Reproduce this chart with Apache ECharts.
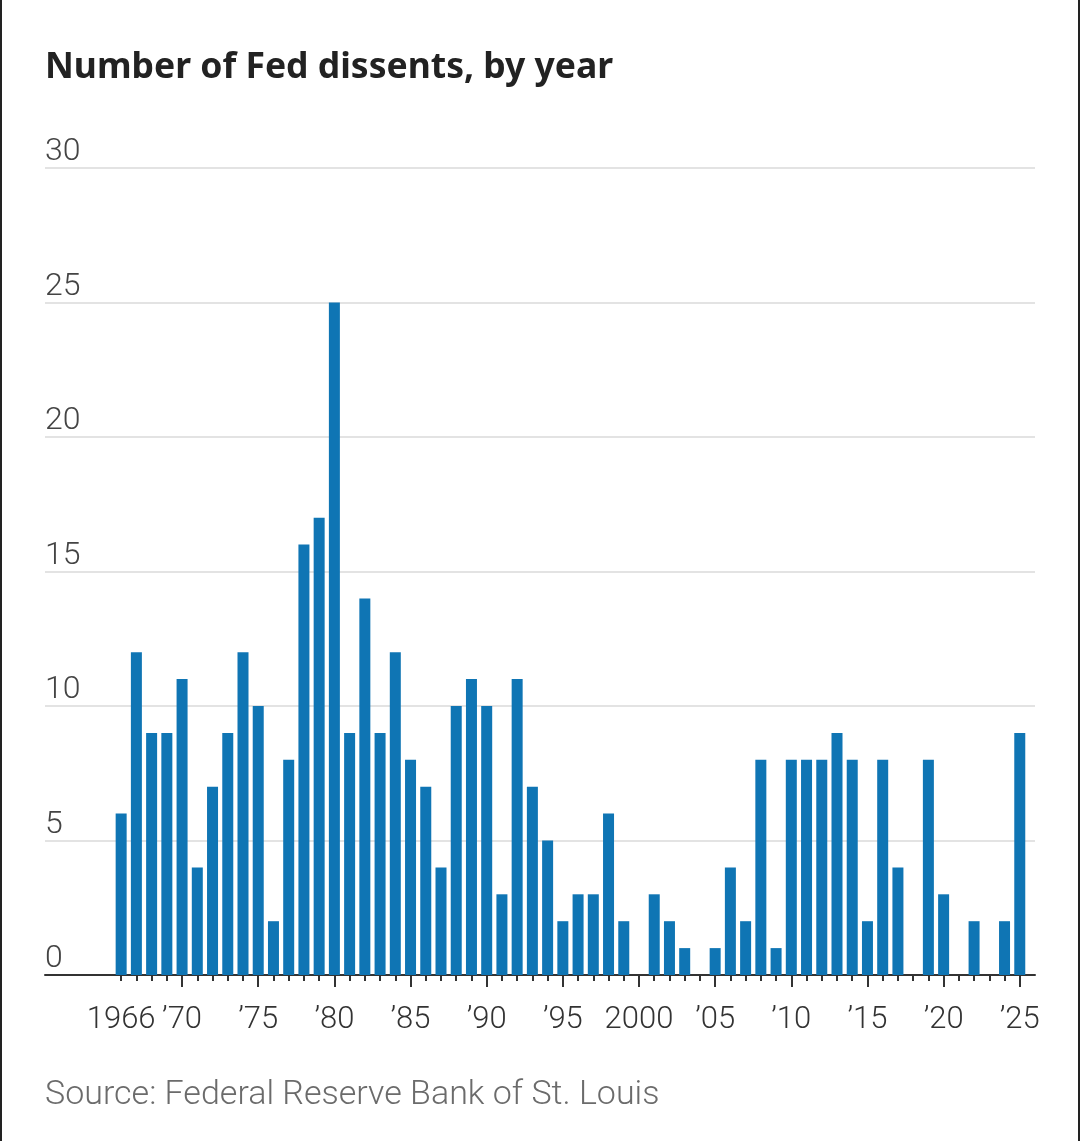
<!DOCTYPE html>
<html>
<head>
<meta charset="utf-8">
<script src="https://cdn.jsdelivr.net/npm/echarts@6/dist/echarts.min.js"></script>
<style>
html,body{margin:0;padding:0;background:#fff;}
#chart{width:1080px;height:1141px;}
</style>
</head>
<body>
<div id="chart"></div>
<script>
const years = [1966,1967,1968,1969,1970,1971,1972,1973,1974,1975,1976,1977,1978,1979,1980,1981,1982,1983,1984,1985,1986,1987,1988,1989,1990,1991,1992,1993,1994,1995,1996,1997,1998,1999,2000,2001,2002,2003,2004,2005,2006,2007,2008,2009,2010,2011,2012,2013,2014,2015,2016,2017,2018,2019,2020,2021,2022,2023,2024,2025];
const dissents = [6,12,9,9,11,4,7,9,12,10,2,8,16,17,25,9,14,9,12,8,7,4,10,11,10,3,11,7,5,2,3,3,6,2,0,3,2,1,0,1,4,2,8,1,8,8,8,9,8,2,8,4,0,8,3,0,2,0,2,9];
const xLabelYears = [1966,1970,1975,1980,1985,1990,1995,2000,2005,2010,2015,2020,2025];
const xLabelTexts = ['1966','\u201970','\u201975','\u201980','\u201985','\u201990','\u201995','2000','\u201905','\u201910','\u201915','\u201920','\u201925'];
const majorTickYears = [1970,1975,1980,1985,1990,1995,2000,2005,2010,2015,2020,2025];
const yTicks = [0,5,10,15,20,25,30];
const titleText = 'Number of Fed dissents, by year';
const sourceText = 'Source: Federal Reserve Bank of St. Louis';

const chart = echarts.init(document.getElementById('chart'), null, {renderer:'canvas'});
const lightFont = 'Roboto';
const xMin = 1961, xMax = 2026;
const baseX = {
  type:'value', min:xMin, max:xMax, interval:1,
  splitLine:{show:false}
};
chart.setOption({
  backgroundColor:'#fff',
  animation:false,
  title:[
    {text:titleText, left:45, top:50, padding:0, textStyle:{fontFamily:'Noto Sans', fontWeight:'bold', fontSize:35.5, color:'#222'}},
    {text:sourceText, left:45, top:1078, padding:0, textStyle:{fontFamily:lightFont, fontWeight:300, fontSize:34, color:'#6b6b6b'}}
  ],
  grid:{left:45, right:45, top:168, bottom:166, containLabel:false},
  xAxis:[
    Object.assign({}, baseX, {
      axisLine:{show:true, lineStyle:{color:'#333', width:2}},
      axisTick:{show:true, length:6, lineStyle:{color:'#333', width:2}, customValues:years},
      axisLabel:{show:false}
    }),
    Object.assign({}, baseX, {
      position:'bottom',
      axisLine:{show:false},
      axisTick:{show:true, length:12, lineStyle:{color:'#333', width:2}, customValues:majorTickYears},
      axisLabel:{show:true, customValues:xLabelYears, margin:30, fontFamily:lightFont, fontWeight:300, fontSize:31, color:'#333',
        formatter:function(v){const i=xLabelYears.indexOf(v); return i>=0?xLabelTexts[i]:'';}}
    })
  ],
  yAxis:{
    type:'value', min:0, max:30, interval:5,
    axisLine:{show:false}, axisTick:{show:false},
    splitLine:{show:true, lineStyle:{color:'#e3e3e3', width:2}},
    axisLabel:{inside:true, margin:0, verticalAlign:'bottom', padding:[0,0,0,0], fontFamily:lightFont, fontWeight:300, fontSize:32, color:'#444',
      formatter:function(v){return yTicks.indexOf(v)>=0?String(v):'';}}
  },
  series:[{
    type:'bar', xAxisIndex:0, yAxisIndex:0,
    barWidth:11,
    itemStyle:{color:'#0f75b4'},
    data: years.map((y,i)=>[y, dissents[i]]),
    z:1
  }],
  graphic:[
    {type:'rect', left:0, top:0, shape:{width:2, height:1141}, style:{fill:'#222'}},
    {type:'rect', left:1078, top:0, shape:{width:2, height:1141}, style:{fill:'#222'}}
  ]
});
</script>
</body>
</html>
